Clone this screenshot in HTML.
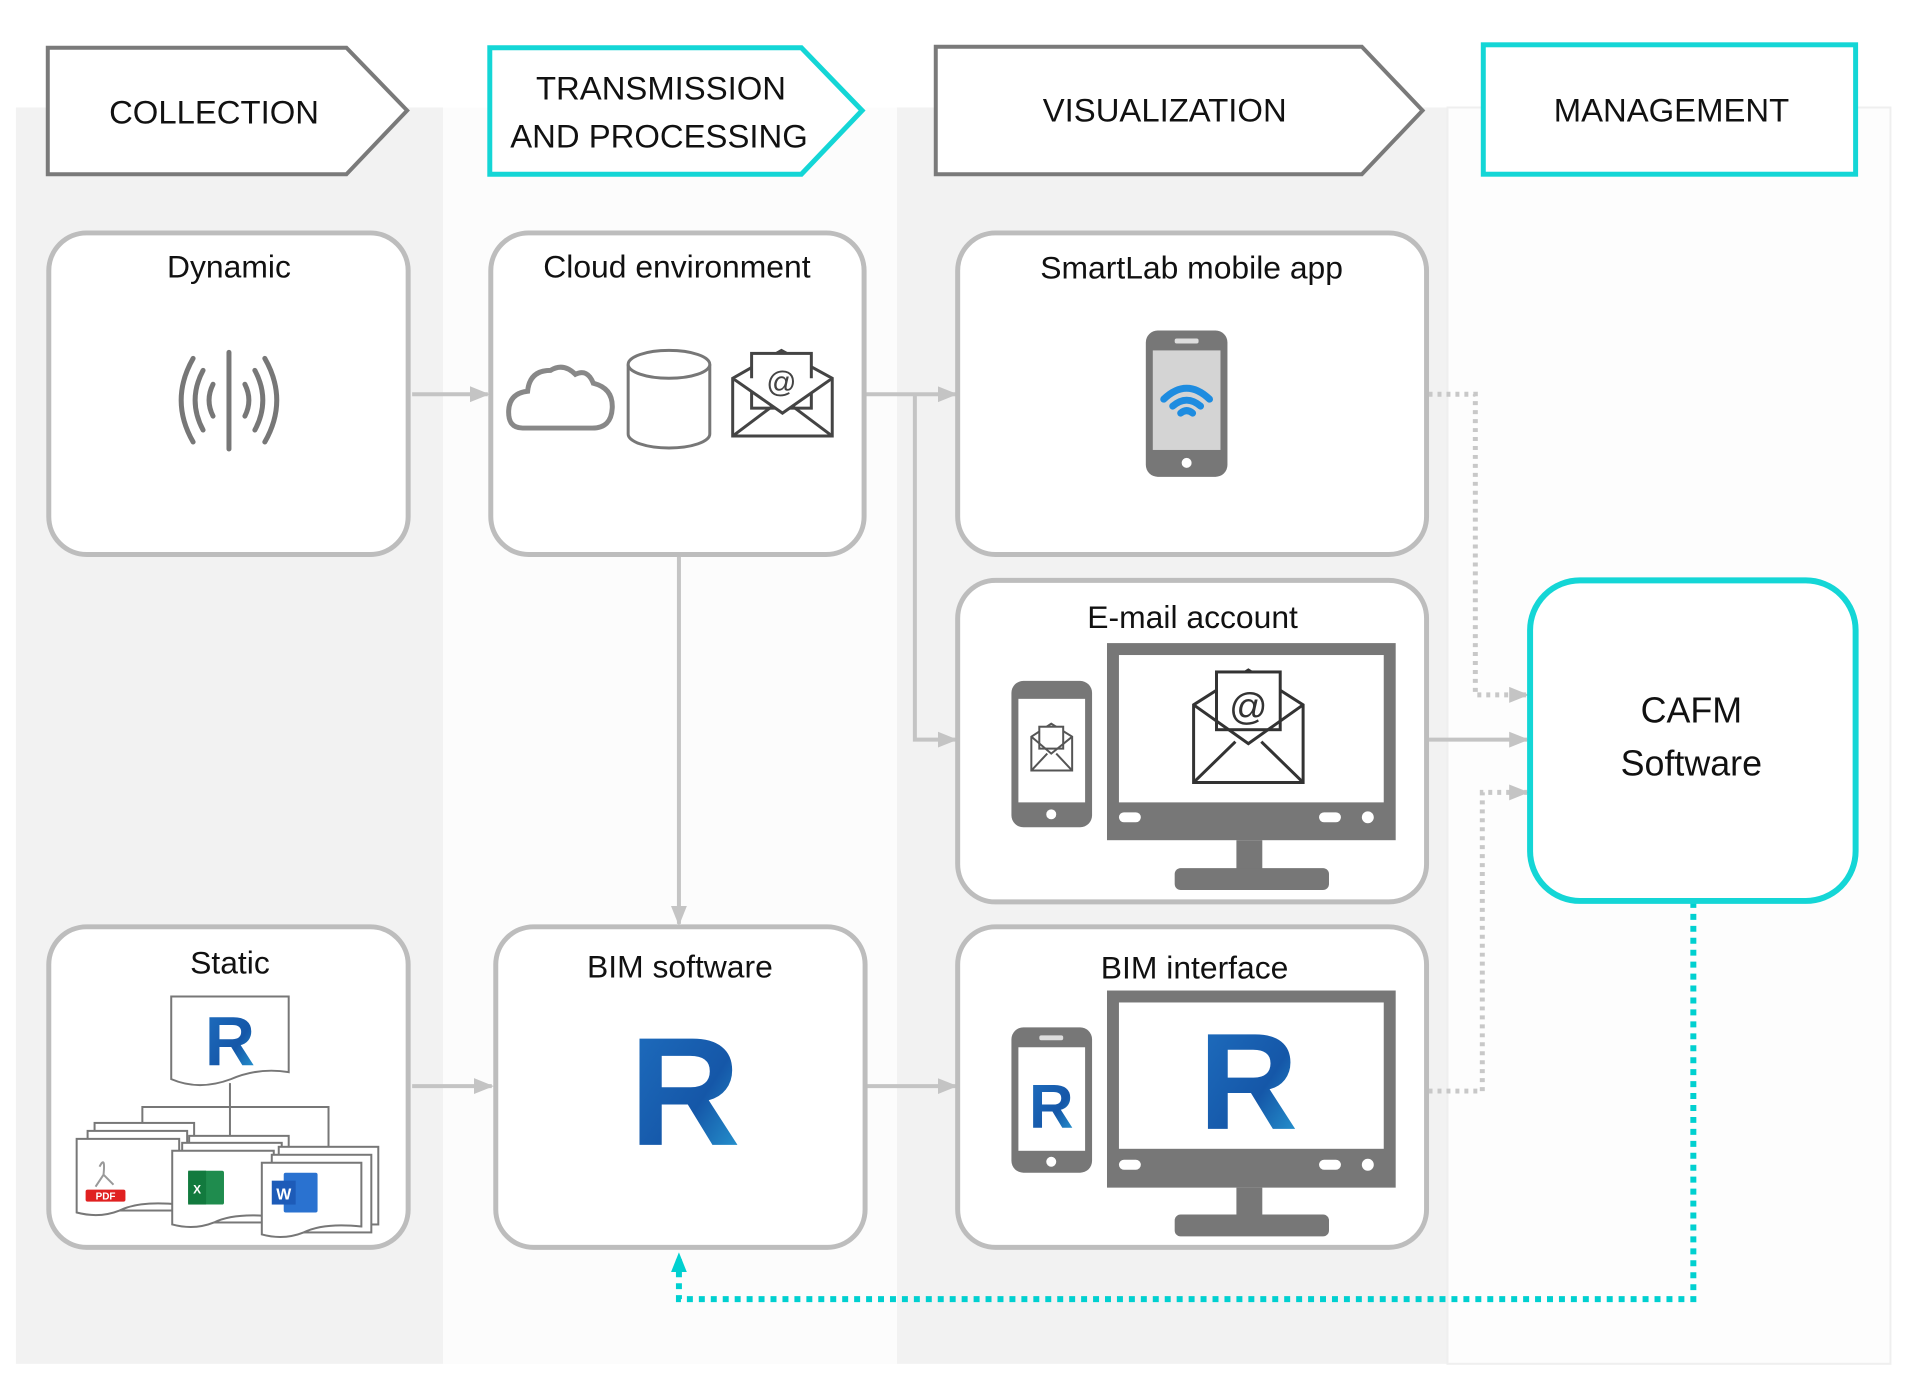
<!DOCTYPE html>
<html><head><meta charset="utf-8"><style>
html,body{margin:0;padding:0;background:#fff;}
svg{display:block;}
text{font-family:"Liberation Sans",sans-serif;fill:#111;}
</style></head><body>
<svg width="1917" height="1392" viewBox="0 0 1917 1392" xmlns="http://www.w3.org/2000/svg">
<defs>
<marker id="agb" markerWidth="20" markerHeight="20" refX="18" refY="10" orient="auto" markerUnits="userSpaceOnUse"><path d="M0,2 L20,10 L0,18 z" fill="#c4c4c4"/></marker>
<marker id="at" markerWidth="20" markerHeight="20" refX="18" refY="10" orient="auto" markerUnits="userSpaceOnUse"><path d="M0,2 L20,10 L0,18 z" fill="#00d0d0"/></marker>
<linearGradient id="rg" x1="0" y1="0" x2="1" y2="1"><stop offset="0" stop-color="#1f6fc0"/><stop offset="0.6" stop-color="#1557a8"/><stop offset="1" stop-color="#2aa3d8"/></linearGradient>
</defs>
<g transform="scale(0.9955)">
<rect x="16" y="108" width="429" height="1262" fill="#f2f2f2"/>
<rect x="445" y="108" width="456" height="1262" fill="#fcfcfc"/>
<rect x="901" y="108" width="553" height="1262" fill="#f2f2f2"/>
<rect x="1454" y="108" width="445" height="1262" fill="#fdfdfd" stroke="#efefef" stroke-width="2"/>

<polygon points="48,48 348,48 409,111 348,175 48,175" fill="#fff" stroke="#7a7a7a" stroke-width="4"/>
<text x="215" y="124" font-size="33" text-anchor="middle">COLLECTION</text>
<polygon points="492,48 805,48 866,111 805,175 492,175" fill="#fff" stroke="#14d6d6" stroke-width="5"/>
<text x="664" y="100" font-size="33" text-anchor="middle">TRANSMISSION</text>
<text x="662" y="148" font-size="33" text-anchor="middle">AND PROCESSING</text>
<polygon points="940,47 1368,47 1429,111 1368,175 940,175" fill="#fff" stroke="#7a7a7a" stroke-width="4"/>
<text x="1170" y="122" font-size="33" text-anchor="middle">VISUALIZATION</text>
<rect x="1490" y="45" width="374" height="130" fill="#fff" stroke="#14d6d6" stroke-width="5"/>
<text x="1679" y="122" font-size="33" text-anchor="middle">MANAGEMENT</text>

<g stroke="#c4c4c4" stroke-width="4" fill="none">
<line x1="414" y1="396" x2="490" y2="396" marker-end="url(#agb)"/>
<line x1="870" y1="396" x2="960" y2="396" marker-end="url(#agb)"/>
<polyline points="919,396 919,743 960,743" marker-end="url(#agb)"/>
<line x1="682" y1="557" x2="682" y2="928" marker-end="url(#agb)"/>
<line x1="414" y1="1091" x2="494" y2="1091" marker-end="url(#agb)"/>
<line x1="870" y1="1091" x2="960" y2="1091" marker-end="url(#agb)"/>
<line x1="1435" y1="743" x2="1534" y2="743" marker-end="url(#agb)"/>
</g>
<g stroke="#c8c8c8" stroke-width="5" fill="none" stroke-dasharray="4,5">
<polyline points="1435,396 1482,396 1482,698 1534,698" marker-end="url(#agb)"/>
<polyline points="1435,1096 1489,1096 1489,796 1534,796" marker-end="url(#agb)"/>
</g>
<polyline points="1701,906 1701,1305 682,1305 682,1260" fill="none" stroke="#00d0d0" stroke-width="6" stroke-dasharray="6,6" marker-end="url(#at)"/>

<g fill="#fff" stroke="#bdbdbd" stroke-width="5">
<rect x="49" y="234" width="361" height="323" rx="38"/>
<rect x="493" y="234" width="375" height="323" rx="38"/>
<rect x="962" y="234" width="471" height="323" rx="38"/>
<rect x="962" y="583" width="471" height="323" rx="38"/>
<rect x="49" y="931" width="361" height="322" rx="38"/>
<rect x="498" y="931" width="371" height="322" rx="38"/>
<rect x="962" y="931" width="471" height="322" rx="38"/>
</g>
<rect x="1537" y="583" width="327" height="322" rx="50" fill="#fff" stroke="#14d6d6" stroke-width="6"/>

<text x="230" y="279" font-size="32" text-anchor="middle">Dynamic</text>
<text x="680" y="279" font-size="32" text-anchor="middle">Cloud environment</text>
<text x="1197" y="280" font-size="32" text-anchor="middle">SmartLab mobile app</text>
<text x="1198" y="631" font-size="32" text-anchor="middle">E-mail account</text>
<text x="231" y="978" font-size="32" text-anchor="middle">Static</text>
<text x="683" y="982" font-size="32" text-anchor="middle">BIM software</text>
<text x="1200" y="983" font-size="32" text-anchor="middle">BIM interface</text>
<text x="1699" y="726" font-size="36" text-anchor="middle">CAFM</text>
<text x="1699" y="779" font-size="36" text-anchor="middle">Software</text>

<g stroke="#777" stroke-width="5" fill="none" stroke-linecap="round">
<line x1="230" y1="354" x2="230" y2="451"/>
<path d="M214,386 Q206,402 214,418"/><path d="M246,386 Q254,402 246,418"/>
<path d="M204,372 Q188,402 204,432"/><path d="M256,372 Q272,402 256,432"/>
<path d="M194,360 Q170,402 194,444"/><path d="M266,360 Q290,402 266,444"/>
</g>

<path d="M525,430 Q510,430 511,412 Q512,395 530,393 Q532,372 553,372 Q566,364 578,376 Q590,370 596,385 Q616,390 615,410 Q614,430 595,430 Z" fill="#fff" stroke="#888" stroke-width="5"/>
<g fill="#fff" stroke="#777" stroke-width="3">
<path d="M631,366 L631,436 A41,14 0 0 0 713,436 L713,366"/>
<ellipse cx="672" cy="366" rx="41" ry="14"/>
</g>
<g fill="#fff" stroke="#444" stroke-width="3">
<path d="M736,380 L785,352 L836,380 L836,438 L736,438 Z"/>
<rect x="755" y="355" width="60" height="55"/>
<path d="M736,380 L786,415 L836,380"/><path d="M736,438 L776,408 M836,438 L796,408"/>
</g>
<text x="785" y="394" font-size="30" text-anchor="middle" style="fill:#444">@</text>

<rect x="1151" y="332" width="82" height="147" rx="12" fill="#777"/>
<rect x="1158" y="352" width="68" height="100" fill="#d4d4d4"/>
<rect x="1180" y="340" width="24" height="5" rx="2" fill="#ddd"/>
<circle cx="1192" cy="465" r="5" fill="#fff"/>
<g fill="none" stroke="#1e8ce0" stroke-width="7" stroke-linecap="round">
<path d="M1169,401 Q1192,379 1215,401"/><path d="M1178,408 Q1192,396 1206,408"/><path d="M1186,415 Q1192,410 1198,415"/>
</g>

<rect x="1016" y="684" width="81" height="147" rx="12" fill="#777"/>
<rect x="1023" y="702" width="67" height="104" fill="#fff"/>
<circle cx="1056" cy="818" r="5" fill="#fff"/>
<g fill="none" stroke="#555" stroke-width="2">
<path d="M1036,740 L1056,727 L1077,740 L1077,774 L1036,774 Z"/><rect x="1044" y="730" width="24" height="22" fill="#fff"/><path d="M1036,740 L1056,757 L1077,740 M1036,774 L1052,757 M1077,774 L1061,757"/>
</g>
<rect x="1112" y="646" width="290" height="198" fill="#777"/>
<rect x="1124" y="658" width="266" height="148" fill="#fff"/>
<rect x="1124" y="816" width="22" height="10" rx="5" fill="#fff"/><rect x="1325" y="816" width="22" height="10" rx="5" fill="#fff"/><circle cx="1374" cy="821" r="6" fill="#fff"/>
<rect x="1242" y="844" width="26" height="30" fill="#777"/>
<rect x="1180" y="872" width="155" height="22" rx="6" fill="#777"/>
<g fill="#fff" stroke="#333" stroke-width="3">
<path d="M1199,708 L1254,673 L1309,708 L1309,786 L1199,786 Z"/><rect x="1222" y="675" width="64" height="58"/><path d="M1199,708 L1254,747 L1309,708 M1199,786 L1241,745 M1309,786 L1267,745" fill="none"/>
</g>
<text x="1254" y="723" font-size="38" text-anchor="middle" style="fill:#333">@</text>

<rect x="1016" y="1032" width="81" height="146" rx="12" fill="#777"/>
<rect x="1023" y="1052" width="67" height="104" fill="#fff"/>
<rect x="1044" y="1040" width="24" height="5" rx="2" fill="#ddd"/>
<circle cx="1056" cy="1167" r="5" fill="#fff"/>
<text x="1056" y="1133" font-size="62" font-weight="bold" text-anchor="middle" style="fill:url(#rg)">R</text>
<rect x="1112" y="995" width="290" height="198" fill="#777"/>
<rect x="1124" y="1007" width="266" height="147" fill="#fff"/>
<rect x="1124" y="1165" width="22" height="10" rx="5" fill="#fff"/><rect x="1325" y="1165" width="22" height="10" rx="5" fill="#fff"/><circle cx="1374" cy="1170" r="6" fill="#fff"/>
<rect x="1242" y="1193" width="26" height="30" fill="#777"/>
<rect x="1180" y="1220" width="155" height="22" rx="6" fill="#777"/>
<text x="1254" y="1134" font-size="138" font-weight="bold" text-anchor="middle" style="fill:url(#rg)">R</text>

<text x="688" y="1150" font-size="155" font-weight="bold" text-anchor="middle" style="fill:url(#rg)">R</text>

<g fill="#fff" stroke="#777" stroke-width="2">
<path d="M172,1001 L290,1001 L290,1077 Q260,1072 232,1084 Q200,1096 172,1084 Z"/>
<line x1="231" y1="1088" x2="231" y2="1142"/>
<polyline points="143,1132 143,1112 330,1112 330,1152" fill="none"/>
<rect x="95" y="1128" width="100" height="80"/><rect x="88" y="1136" width="100" height="80"/>
<path d="M77,1144 L180,1144 L180,1210 Q140,1206 120,1216 Q100,1224 77,1218 Z"/>
<rect x="190" y="1141" width="100" height="80"/><rect x="183" y="1148" width="100" height="80"/>
<path d="M173,1156 L275,1156 L275,1222 Q235,1218 215,1228 Q195,1236 173,1230 Z"/>
<rect x="280" y="1152" width="100" height="78"/><rect x="273" y="1160" width="100" height="78"/>
<path d="M263,1168 L363,1168 L363,1232 Q325,1228 305,1238 Q285,1246 263,1240 Z"/>
</g>
<text x="231" y="1070" font-size="70" font-weight="bold" text-anchor="middle" style="fill:url(#rg)">R</text>
<rect x="86" y="1195" width="40" height="12" rx="2" fill="#e02020"/>
<text x="106" y="1205" font-size="10" font-weight="bold" text-anchor="middle" style="fill:#fff">PDF</text>
<path d="M100,1172 Q106,1160 104,1180 M104,1180 L96,1192 M104,1180 L114,1190" stroke="#999" stroke-width="2" fill="none"/>
<rect x="189" y="1176" width="36" height="34" rx="2" fill="#1f8c4e"/><rect x="189" y="1176" width="18" height="34" fill="#127a3e"/>
<text x="198" y="1199" font-size="12" font-weight="bold" text-anchor="middle" style="fill:#fff">X</text>
<rect x="285" y="1178" width="34" height="40" rx="2" fill="#2a72d0"/><rect x="273" y="1186" width="24" height="24" fill="#1d5bb8"/>
<text x="285" y="1205" font-size="16" font-weight="bold" text-anchor="middle" style="fill:#fff">W</text>
</g>
</svg>
</body></html>
